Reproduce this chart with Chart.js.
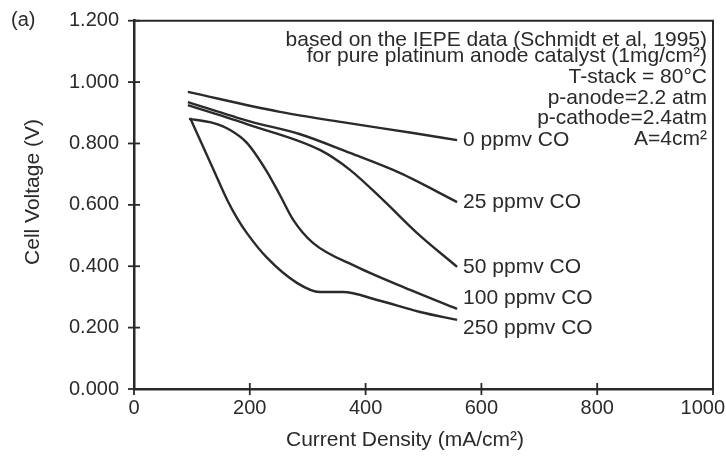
<!DOCTYPE html>
<html>
<head>
<meta charset="utf-8">
<script src="https://cdn.jsdelivr.net/npm/chart.js@4"></script>
<style>
  html, body { margin: 0; padding: 0; background: #fff; }
  #wrap { width: 726px; height: 465px; }
</style>
</head>
<body>
<div id="wrap"><canvas id="chart" width="726" height="465"></canvas></div>
<script>
// current density (mA/cm2) and cell voltage (V)
const seriesNames = ["0 ppmv CO", "25 ppmv CO", "50 ppmv CO", "100 ppmv CO", "250 ppmv CO"];

const cd0 = [93, 252, 368, 482, 558];
const v0 = [0.968, 0.903, 0.867, 0.834, 0.811];

const cd25 = [93, 200, 287, 373, 459, 558];
const v25 = [0.935, 0.872, 0.830, 0.769, 0.704, 0.609];

const cd50 = [93, 200, 321, 373, 430, 489, 558];
const v50 = [0.925, 0.860, 0.779, 0.714, 0.616, 0.508, 0.398];

const cd100 = [95, 136, 166, 195, 230, 252, 275, 309, 385, 477, 558];
const v100 = [0.880, 0.867, 0.844, 0.802, 0.707, 0.632, 0.551, 0.476, 0.398, 0.323, 0.261];

const cd250 = [97, 136, 161, 178, 195, 230, 282, 321, 361, 420, 494, 558];
const v250 = [0.883, 0.720, 0.616, 0.557, 0.508, 0.427, 0.345, 0.316, 0.316, 0.290, 0.251, 0.225];

const xTicks = [0, 200, 400, 600, 800, 1000];
const yTicks = [0, 0.2, 0.4, 0.6, 0.8, 1.0, 1.2];

const noteLines = [
  "based on the IEPE data (Schmidt et al, 1995)",
  "for pure platinum anode catalyst (1mg/cm\u00b2)",
  "T-stack = 80\u00b0C",
  "p-anode=2.2 atm",
  "p-cathode=2.4atm",
  "A=4cm\u00b2",
];

const INK = "#2a2a2a";
const FONT = "'Liberation Sans', Arial, Helvetica, sans-serif";
// vertical nudge of each end label, px
const labelShift = [0, 0, 0, -11, 8];

const pairs = (xs, ys) => xs.map((x, i) => ({ x, y: ys[i] }));
const allX = [cd0, cd25, cd50, cd100, cd250];
const allY = [v0, v25, v50, v100, v250];

const datasets = seriesNames.map((name, i) => ({
  label: name,
  data: pairs(allX[i], allY[i]),
  borderColor: INK,
  borderWidth: 2.4,
  pointRadius: 0,
  fill: false,
  cubicInterpolationMode: "monotone",
}));

const decor = {
  id: "decor",
  afterDraw(chart) {
    const { ctx, chartArea: a, scales, width } = chart;
    const xs = scales.x, ys = scales.y;
    ctx.save();

    // frame top + right
    ctx.strokeStyle = INK;
    ctx.lineWidth = 2;
    ctx.beginPath();
    ctx.moveTo(a.left, a.top);
    ctx.lineTo(a.right, a.top);
    ctx.lineTo(a.right, a.bottom);
    ctx.stroke();

    // tick marks crossing the axes
    ctx.lineWidth = 1.8;
    xTicks.forEach((t) => {
      const px = xs.getPixelForValue(t);
      ctx.beginPath();
      ctx.moveTo(px, a.bottom - 6);
      ctx.lineTo(px, a.bottom + 6);
      ctx.stroke();
    });
    yTicks.forEach((t) => {
      const py = ys.getPixelForValue(t);
      ctx.beginPath();
      ctx.moveTo(a.left - 6, py);
      ctx.lineTo(a.left + 6, py);
      ctx.stroke();
    });

    ctx.fillStyle = INK;
    ctx.font = "20px " + FONT;
    ctx.textBaseline = "middle";

    // x tick labels, last one kept inside the canvas
    ctx.textAlign = "center";
    xTicks.forEach((t) => {
      const s = String(t);
      const w = ctx.measureText(s).width;
      const px = Math.min(xs.getPixelForValue(t), width - w / 2 - 1);
      ctx.fillText(s, px, a.bottom + 19);
    });

    // panel tag
    ctx.textAlign = "left";
    ctx.fillText("(a)", 11, 20);

    // end labels
    ctx.font = "21px " + FONT;
    seriesNames.forEach((name, i) => {
      const n = allX[i].length - 1;
      const px = xs.getPixelForValue(allX[i][n]);
      const py = ys.getPixelForValue(allY[i][n]);
      ctx.fillText(name, px + 6, py + labelShift[i]);
    });

    // note block, top right
    ctx.textAlign = "right";
    const noteY = [40, 56, 77, 98, 118, 139];
    noteLines.forEach((s, i) => ctx.fillText(s, a.right - 6, noteY[i]));

    // axis titles
    ctx.textAlign = "center";
    ctx.fillText("Current Density (mA/cm\u00b2)", 405, 440);
    ctx.translate(33, 192);
    ctx.rotate(-Math.PI / 2);
    ctx.fillText("Cell Voltage (V)", 0, 0);

    ctx.restore();
  },
};

new Chart(document.getElementById("chart"), {
  type: "line",
  data: { datasets },
  plugins: [decor],
  options: {
    responsive: false,
    animation: false,
    layout: { padding: { left: 0, top: 20.7, right: 13, bottom: 0 } },
    plugins: { legend: { display: false }, tooltip: { enabled: false } },
    scales: {
      x: {
        type: "linear",
        min: 0,
        max: 1000,
        afterFit: (s) => { s.height = 76; s.paddingLeft = 0; s.paddingRight = 0; },
        afterBuildTicks: (s) => { s.ticks = xTicks.map((v) => ({ value: v })); },
        ticks: { display: false },
        grid: { display: false, drawTicks: false },
        border: { display: true, color: INK, width: 2.5 },
      },
      y: {
        min: 0,
        max: 1.2,
        afterFit: (s) => { s.width = 134; s.paddingTop = 0; s.paddingBottom = 0; },
        afterBuildTicks: (s) => { s.ticks = yTicks.map((v) => ({ value: v })); },
        ticks: {
          color: INK,
          font: { family: FONT, size: 20 },
          padding: 15,
          callback: (v) => Number(v).toFixed(3),
        },
        grid: { display: false, drawTicks: false },
        border: { display: true, color: INK, width: 2.5 },
      },
    },
  },
});
</script>
</body>
</html>
